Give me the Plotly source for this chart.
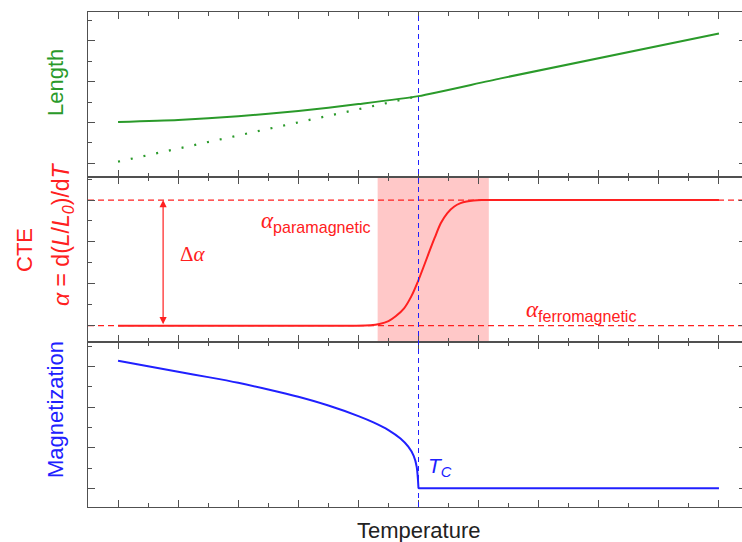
import plotly.graph_objects as go
from plotly.subplots import make_subplots

# ---------------- data (x in temperature units: 0 = first major tick, Tc = 5) -------------
length_x = [0.0, 1.0, 2.0, 3.0, 4.0, 5.0, 6.37, 10.0]
length_y = [2.02, 2.12, 2.30, 2.56, 2.90, 3.29, 4.16, 6.36]
length_extrap_x = [0.0, 5.0]
length_extrap_y = [0.08, 3.29]

cte_x = [0.0, 3.9, 4.2, 4.35, 4.5, 4.62, 4.76, 4.88, 5.0, 5.09, 5.17, 5.27, 5.37, 5.48, 5.59, 5.7,
         5.8, 5.92, 6.05, 10.0]
cte_y = [0.0, 0.0, 0.02, 0.08, 0.22, 0.45, 0.83, 1.40, 2.18, 2.85, 3.46, 4.20, 4.89, 5.38, 5.68, 5.85,
         5.93, 5.98, 6.0, 6.0]
alpha_ferro = 0.0
alpha_para = 6.0
shade_x = [4.32, 6.17]
delta_arrow_x = 0.75

mag_x = [0.0, 0.5, 1.0, 1.5, 2.0, 2.5, 3.0, 3.5, 4.0, 4.25, 4.5, 4.7, 4.83, 4.92, 4.97, 5.0]
mag_y = [6.29, 6.02, 5.74, 5.48, 5.20, 4.87, 4.51, 4.08, 3.56, 3.25, 2.87, 2.45, 2.05, 1.60, 1.06, 0.0]
mag_para_x = [5.0, 10.0]
mag_para_y = [0.0, 0.0]

tc = 5.0

GREEN = "#2a9a2a"
RED = "#ff2020"
BLUE = "#2020ff"
AX = "#505050"

W, H = 746, 542
L, R, T, B = 88, 0, 12, 35

fig = make_subplots(rows=3, cols=1, shared_xaxes=True, vertical_spacing=0)

fig.add_trace(go.Scatter(x=length_extrap_x, y=length_extrap_y, mode="lines",
                         line=dict(color=GREEN, width=2.2, dash="2px,11px")), row=1, col=1)
fig.add_trace(go.Scatter(x=length_x, y=length_y, mode="lines",
                         line=dict(color=GREEN, width=2, shape="spline", smoothing=0.6)), row=1, col=1)
fig.add_trace(go.Scatter(x=cte_x, y=cte_y, mode="lines",
                         line=dict(color=RED, width=2, shape="spline", smoothing=0.8)), row=2, col=1)
fig.add_trace(go.Scatter(x=mag_x, y=mag_y, mode="lines",
                         line=dict(color=BLUE, width=2, shape="spline", smoothing=0.8)), row=3, col=1)
fig.add_trace(go.Scatter(x=mag_para_x, y=mag_para_y, mode="lines",
                         line=dict(color=BLUE, width=2)), row=3, col=1)

xcommon = dict(range=[-0.5, (W - 1 - 118) / 60.0], showticklabels=False, showgrid=False, zeroline=False,
               showline=True, linecolor=AX, linewidth=1.2, mirror="allticks",
               ticks="inside", ticklen=7, tickwidth=1.2, tickcolor=AX, tick0=0, dtick=1,
               minor=dict(ticks="inside", ticklen=4, tickwidth=1.2, tickcolor=AX, dtick=0.5, tick0=0.5,
                          showgrid=False))
ycommon = dict(showticklabels=False, showgrid=False, zeroline=False,
               showline=True, linecolor=AX, linewidth=1.2, mirror="allticks",
               ticks="inside", ticklen=7, tickwidth=1.2, tickcolor=AX, tick0=0, dtick=2,
               minor=dict(ticks="inside", ticklen=4, tickwidth=1.2, tickcolor=AX, dtick=1, tick0=1,
                          showgrid=False))

fig.update_layout(
    xaxis=dict(**xcommon, domain=[0, 1]),
    xaxis2=dict(**xcommon, domain=[0, 1]),
    xaxis3=dict(**xcommon, domain=[0, 1]),
    yaxis=dict(**ycommon, domain=[2 / 3, 1], range=[-0.67, 7.41]),
    yaxis2=dict(**ycommon, domain=[1 / 3, 2 / 3], range=[-0.78, 7.10]),
    yaxis3=dict(**ycommon, domain=[0, 1 / 3], range=[-0.92, 7.21]),
)

shapes = [
    dict(type="rect", xref="x2", yref="y2 domain", x0=shade_x[0], x1=shade_x[1], y0=0, y1=1,
         fillcolor="#ffc8c8", line=dict(width=0), layer="below"),
    dict(type="line", xref="x2 domain", yref="y2", x0=0, x1=1, y0=alpha_para, y1=alpha_para,
         line=dict(color=RED, width=1.2, dash="6px,4px"), layer="below"),
    dict(type="line", xref="x2 domain", yref="y2", x0=0, x1=1, y0=alpha_ferro, y1=alpha_ferro,
         line=dict(color=RED, width=1.2, dash="6px,4px"), layer="below"),
    dict(type="line", xref="x3", yref="paper", x0=tc, x1=tc, y0=0, y1=1,
         line=dict(color=BLUE, width=1, dash="5px,4px"), layer="above"),
]
fig.update_layout(shapes=shapes)

pw = W - L - R
ph = H - T - B


def px(xp):
    return (xp - L) / pw


def py(yp):
    return (H - B - yp) / ph


SANS = "Liberation Sans, Arial, sans-serif"
SERIF = "Liberation Serif, Times New Roman, serif"

C = dict(xref="paper", yref="paper", showarrow=False, xanchor="center", yanchor="middle")
ann = []
# y-axis titles
ann.append(dict(text="Length", x=px(55), y=py(83), textangle=-90,
                font=dict(family=SANS, size=22, color=GREEN), **C))
ann.append(dict(text="CTE", x=px(24), y=py(250), textangle=-90,
                font=dict(family=SANS, size=22, color=RED), **C))
ann.append(dict(text="<i>α</i> = d(<i>L</i>/<i>L</i><sub><i>0</i></sub>)/d<i>T</i>", x=px(62), y=py(234),
                textangle=-90, font=dict(family=SANS, size=23, color=RED), **C))
ann.append(dict(text="Magnetization", x=px(55), y=py(410), textangle=-90,
                font=dict(family=SANS, size=22, color=BLUE), **C))
ann.append(dict(text="Temperature", x=px(419), y=py(530),
                font=dict(family=SANS, size=22, color="#222222"), **C))

# delta alpha arrow
ann.append(dict(text="", x=delta_arrow_x, y=alpha_para, ax=delta_arrow_x, ay=alpha_ferro,
                xref="x2", yref="y2", axref="x2", ayref="y2", showarrow=True,
                arrowside="end+start", arrowhead=2, startarrowhead=2, arrowsize=1.2, startarrowsize=1.2,
                arrowwidth=1.2, arrowcolor=RED, standoff=0, startstandoff=0))
ann.append(dict(text="Δ<i>α</i>", x=px(193), y=py(254),
                font=dict(family=SERIF, size=21, color=RED), **C))
ann.append(dict(text="<span style='font-family:Liberation Serif'><i>α</i></span><sub>paramagnetic</sub>",
                x=px(259), y=py(222), xref="paper", yref="paper", xanchor="left", yanchor="middle",
                showarrow=False, font=dict(family=SANS, size=23, color=RED)))
ann.append(dict(text="<span style='font-family:Liberation Serif'><i>α</i></span><sub>ferromagnetic</sub>",
                x=px(524), y=py(311), xref="paper", yref="paper", xanchor="left", yanchor="middle",
                showarrow=False, font=dict(family=SANS, size=23, color=RED)))
ann.append(dict(text="<i>T</i><sub><i>C</i></sub>", x=px(426), y=py(467), xref="paper", yref="paper",
                xanchor="left", yanchor="middle", showarrow=False,
                font=dict(family=SANS, size=21, color=BLUE)))

fig.update_layout(annotations=ann)

fig.update_layout(width=W, height=H, margin=dict(l=L, r=R, t=T, b=B, pad=0),
                  paper_bgcolor="white", plot_bgcolor="white", showlegend=False)

fig.write_html("out.html", config={"displayModeBar": False},
               post_script="document.body.style.margin='0';document.body.style.overflow='hidden';")
